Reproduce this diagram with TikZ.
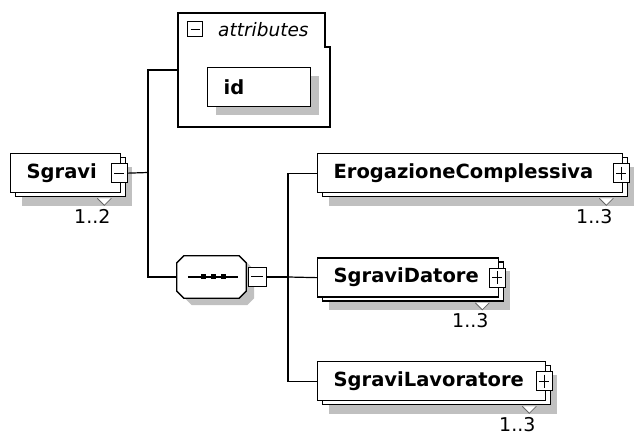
\documentclass[tikz,border=0pt]{standalone}
\usepackage{fontspec}
\setmainfont{DejaVu Sans}
\usetikzlibrary{shadows}
\definecolor{shadowgray}{RGB}{192,192,192}
\newcommand\occurs[2]{%
  \filldraw[fill=white, draw=black!60, line width=0.8pt] ([xshift=-24pt,yshift=-5pt]#1.south east) -- ++(7,7) -- ++(7,-7);
  \node[card] (#1-n) at ([xshift=-29pt,yshift=-23pt]#1.south east) {#2};}
\newcommand\octo[1]{([xshift=7pt]#1.north west) -- ([xshift=-7pt]#1.north east) -- ([yshift=-7pt]#1.north east)
  -- ([yshift=7pt]#1.south east) -- ([xshift=-7pt]#1.south east) -- ([xshift=7pt]#1.south west)
  -- ([yshift=7pt]#1.south west) -- ([yshift=-7pt]#1.north west) -- cycle}
\tikzset{
  wire/.style={line width=1.2pt},
  elem/.style={draw, fill=white, line width=1.3pt, anchor=north west, minimum height=39pt,
    inner xsep=16pt, inner ysep=0pt, align=left, font=\fontsize{19.5}{22}\selectfont\bfseries,
    general shadow={fill=shadowgray, shadow xshift=11pt, shadow yshift=-13pt},
    general shadow={draw, fill=white, line width=1.3pt, shadow xshift=5pt, shadow yshift=-4pt}},
  attr/.style={draw, fill=white, line width=1.3pt, anchor=north west, minimum height=39pt,
    inner xsep=16pt, inner ysep=0pt, align=left, font=\fontsize{19.5}{22}\selectfont\bfseries,
    general shadow={fill=shadowgray, shadow xshift=8pt, shadow yshift=-8pt}},
  expander/.style={draw, fill=white, line width=1pt, minimum width=16pt, minimum height=19pt, inner sep=0pt},
  minus/.style={expander, path picture={
    \draw[line width=1pt] ([xshift=3pt]path picture bounding box.west) -- ([xshift=-3pt]path picture bounding box.east);}},
  plus/.style={expander, path picture={
    \draw[line width=1pt] ([xshift=3pt]path picture bounding box.west) -- ([xshift=-3pt]path picture bounding box.east);
    \draw[line width=1pt] ([yshift=-3pt]path picture bounding box.north) -- ([yshift=3pt]path picture bounding box.south);}},
  seq/.style={minimum width=69pt, minimum height=42pt, inner sep=0pt},
  card/.style={font=\fontsize{19}{22}\selectfont, inner sep=0pt},
}
\begin{document}
\begin{tikzpicture}[x=1pt,y=-1pt]
  %%%%% START %%%%%
  \useasboundingbox[fill=white] (0,0) rectangle (634,435);

  % attributes group
  \draw[line width=1.3pt] (178,13) -- (325,13) -- (325,47) -- (330,47) -- (330,127) -- (178,127) -- cycle;
  \coordinate (attrs) at (178,70);
  \node[minus, minimum width=15pt, minimum height=15pt] (attr-x) at (195,29.5) {};
  \node[anchor=west, inner sep=0pt, font=\fontsize{18.5}{22}\selectfont\itshape] (attr-t) at (218,30) {attributes};
  \node[attr, text width=71pt] (id) at (207,67) {id};

  % root element
  \node[elem, text width=78pt] (sgravi) at (10,153) {Sgravi};
  \occurs{sgravi}{1..2}
  \node[minus] (sgravi-x) at ([xshift=-2pt]sgravi.east) {};

  % sequence
  \node[seq] (seq-s) at (219.5,284) {};
  \node[seq] (seq) at (211.5,277) {};
  \fill[shadowgray] \octo{seq-s};
  \draw[fill=white, line width=1.3pt] \octo{seq};
  \draw[line width=1.2pt] ([xshift=11pt]seq.west) -- ([xshift=-8pt]seq.east);
  \foreach \d in {-8,2,12}
    \fill ([xshift=\d pt]seq.center) +(-2.5,-2.5) rectangle +(2.5,2.5);
  \node[minus, minimum width=18pt] (seq-x) at (257,277) {};

  % children
  \node[elem, text width=273pt] (eroga) at (317,153) {ErogazioneComplessiva};
  \occurs{eroga}{1..3}
  \node[plus] (eroga-x) at ([xshift=-2pt]eroga.east) {};

  \node[elem, text width=149pt] (datore) at (317,257.5) {SgraviDatore};
  \occurs{datore}{1..3}
  \node[plus] (datore-x) at ([xshift=-2pt]datore.east) {};

  \node[elem, text width=196pt] (lavor) at (317,361) {SgraviLavoratore};
  \occurs{lavor}{1..3}
  \node[plus] (lavor-x) at ([xshift=-2pt]lavor.east) {};

  % connectors
  \coordinate (fork) at (148,172.5);
  \coordinate (fork2) at (288,277);
  \draw[wire] (sgravi-x.east) -- (fork);
  \draw[wire] (attrs) -| (fork) |- (seq.west);
  \draw[wire] (seq-x.east) -- (fork2);
  \draw[wire] (eroga.west) -| (fork2) |- (lavor.west);
  \draw[wire] (datore.west) -- (fork2);
  %%%%% END %%%%%
\end{tikzpicture}
\end{document}
